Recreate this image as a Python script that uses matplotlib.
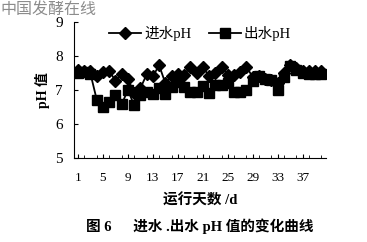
import numpy as np
import matplotlib.pyplot as plt
from matplotlib.ticker import MultipleLocator

plt.rcParams['font.family'] = ['Liberation Serif', 'Noto Sans CJK SC']

# data
days = list(range(1, 41))
ph_in = [7.60, 7.57, 7.55, 7.42, 7.52, 7.57, 7.27, 7.47, 7.33, 6.90,
         7.05, 7.46, 7.40, 7.73, 7.20, 7.40, 7.47, 7.45, 7.68, 7.50,
         7.68, 7.41, 7.49, 7.68, 7.45, 7.43, 7.52, 7.68, 7.38, 7.42,
         7.32, 7.30, 7.20, 7.50, 7.75, 7.65, 7.57, 7.56, 7.56, 7.56]
ph_out = [7.50, 7.52, 7.48, 6.72, 6.50, 6.65, 6.85, 6.58, 7.00, 6.55,
          6.85, 6.95, 6.88, 7.05, 6.88, 7.10, 7.25, 7.08, 6.95, 6.95,
          7.12, 6.92, 7.15, 7.15, 7.22, 6.93, 6.93, 7.00, 7.28, 7.40,
          7.32, 7.30, 7.00, 7.38, 7.70, 7.60, 7.50, 7.48, 7.48, 7.48]
xticks = [1, 5, 9, 13, 17, 21, 25, 29, 33, 37]
yticks = [5, 6, 7, 8, 9]

fig = plt.figure(figsize=(3.67, 2.42), dpi=100)
ax = fig.add_axes([0.2016, 0.347, 0.686, 0.562])

ax.plot(days, ph_in, '-', color='black', marker='D', ms=6, lw=1.3, label='进水pH')
ax.plot(days, ph_out, '-', color='black', marker='s', ms=7, lw=1.3, label='出水pH')

ax.set_xlim(0.36, 40.7)
ax.set_ylim(5, 9)
ax.set_xticks(xticks)
ax.xaxis.set_minor_locator(MultipleLocator(2))
ax.set_yticks(yticks)
ax.tick_params(direction='in', length=3, width=0.8)
ax.tick_params(axis='y', labelsize=11, pad=8)
ax.tick_params(axis='x', labelsize=9.5, pad=10)
ax.tick_params(which='minor', direction='in', length=2, width=0.6)
for s in ['top', 'right']:
    ax.spines[s].set_visible(False)
for s in ['left', 'bottom']:
    ax.spines[s].set_linewidth(0.8)

ax.set_ylabel('pH 值', fontsize=10, fontweight='bold', labelpad=4)
ax.set_xlabel('运行天数 /d', fontsize=10.5, fontweight='bold', labelpad=7)

ax.legend(loc='upper center', bbox_to_anchor=(0.5, 1.07), ncol=2, frameon=False,
          fontsize=10.5, handlelength=2.2, columnspacing=1.2, handletextpad=0.2)

fig.text(0.545, 0.035, '图 6      进水 .出水 pH 值的变化曲线', ha='center', va='bottom',
         fontsize=10.5, fontweight='bold')
fig.text(0.002, 0.995, '中国发酵在线', ha='left', va='top', fontsize=11.5,
         color='#8c8c8c', family=['Noto Sans CJK SC'])

fig.savefig('out.png', dpi=100)
